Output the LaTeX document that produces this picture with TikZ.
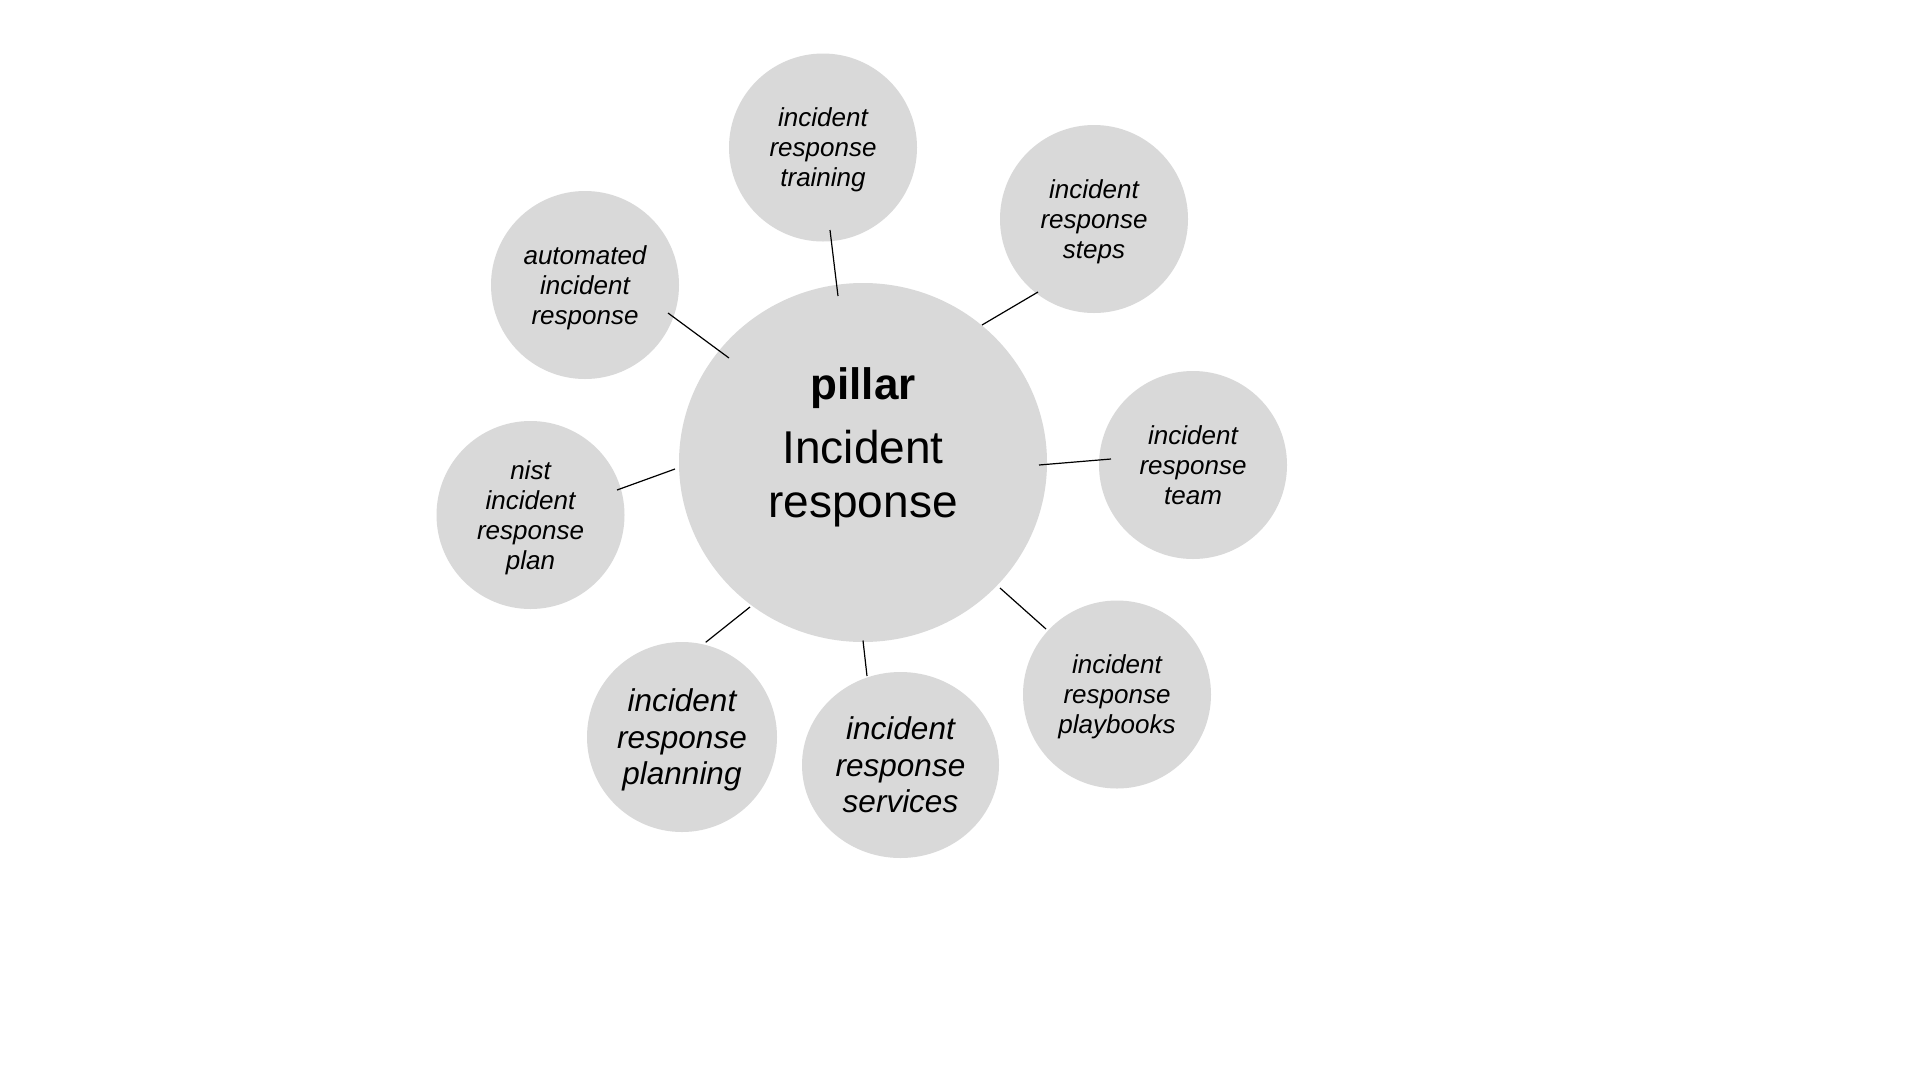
\documentclass[tikz,border=0pt]{standalone}
\usepackage{fontspec}
\setmainfont{Liberation Sans}
\usetikzlibrary{calc, shapes.geometric}

\definecolor{hubgray}{HTML}{D9D9D9}

\begin{document}
\begin{tikzpicture}[
		x=1pt, y=-1pt,
		hub/.style={ellipse, fill=hubgray, minimum width=368pt, minimum height=359pt, inner sep=0pt},
		leaf/.style={circle, fill=hubgray, minimum size=188pt, inner sep=0pt, align=center, text depth=0pt, font=\itshape\fontsize{26}{30}\selectfont},
		bigleaf/.style={leaf, font=\itshape\fontsize{31.5}{36.5}\selectfont},
		link/.style={line width=1.2pt, black}
		]
		\fill[white] (0,0) rectangle (1920,1080);
		\useasboundingbox (0,0) rectangle (1920,1080);

		\node[hub] (pillar) at (863,462.5) {};
		\node[font=\fontsize{46}{54}\selectfont, align=center, inner sep=0pt] (pillartext) at (863,447) {{\bfseries\fontsize{44}{54}\selectfont pillar}\\[10pt]Incident\\response};

		\node[leaf] (training) at (823,147.5) {incident\\response\\training};
		\node[leaf] (steps) at (1094,219) {incident\\response\\steps};
		\node[leaf] (automated) at (585,285) {automated\\incident\\response};
		\node[leaf] (team) at (1193,465) {incident\\response\\team};
		\node[leaf] (nist) at (530.5,515) {nist\\incident\\response\\plan};
		\node[leaf] (playbooks) at (1117,694.5) {incident\\response\\playbooks};
		\node[bigleaf, minimum size=190pt] (planning) at (682,737) {incident\\response\\planning};
		\node[bigleaf, ellipse, minimum width=197pt, minimum height=186pt] (services) at (900.5,765) {incident\\response\\services};

		\draw[link] ($(training)+(7,82.5)$) -- ($(pillar)+(-25,-166.5)$);
		\draw[link] ($(pillar)+(119,-137.5)$) -- ($(steps)+(-56,73)$);
		\draw[link] ($(automated)+(83,28)$) -- ($(pillar)+(-134,-104.5)$);
		\draw[link] ($(pillar)+(176,2.5)$) -- ($(team)+(-82,-6)$);
		\draw[link] ($(pillar)+(137,125.5)$) -- ($(playbooks)+(-71,-65.5)$);
		\draw[link] ($(pillar)+(0,178)$) -- ($(services)+(-33.5,-89)$);
		\draw[link] ($(pillar)+(-113,144.5)$) -- ($(planning)+(23.7,-94.7)$);
		\draw[link] ($(nist)+(86.5,-25)$) -- ($(pillar)+(-188,6.5)$);
	\end{tikzpicture}
\end{document}
